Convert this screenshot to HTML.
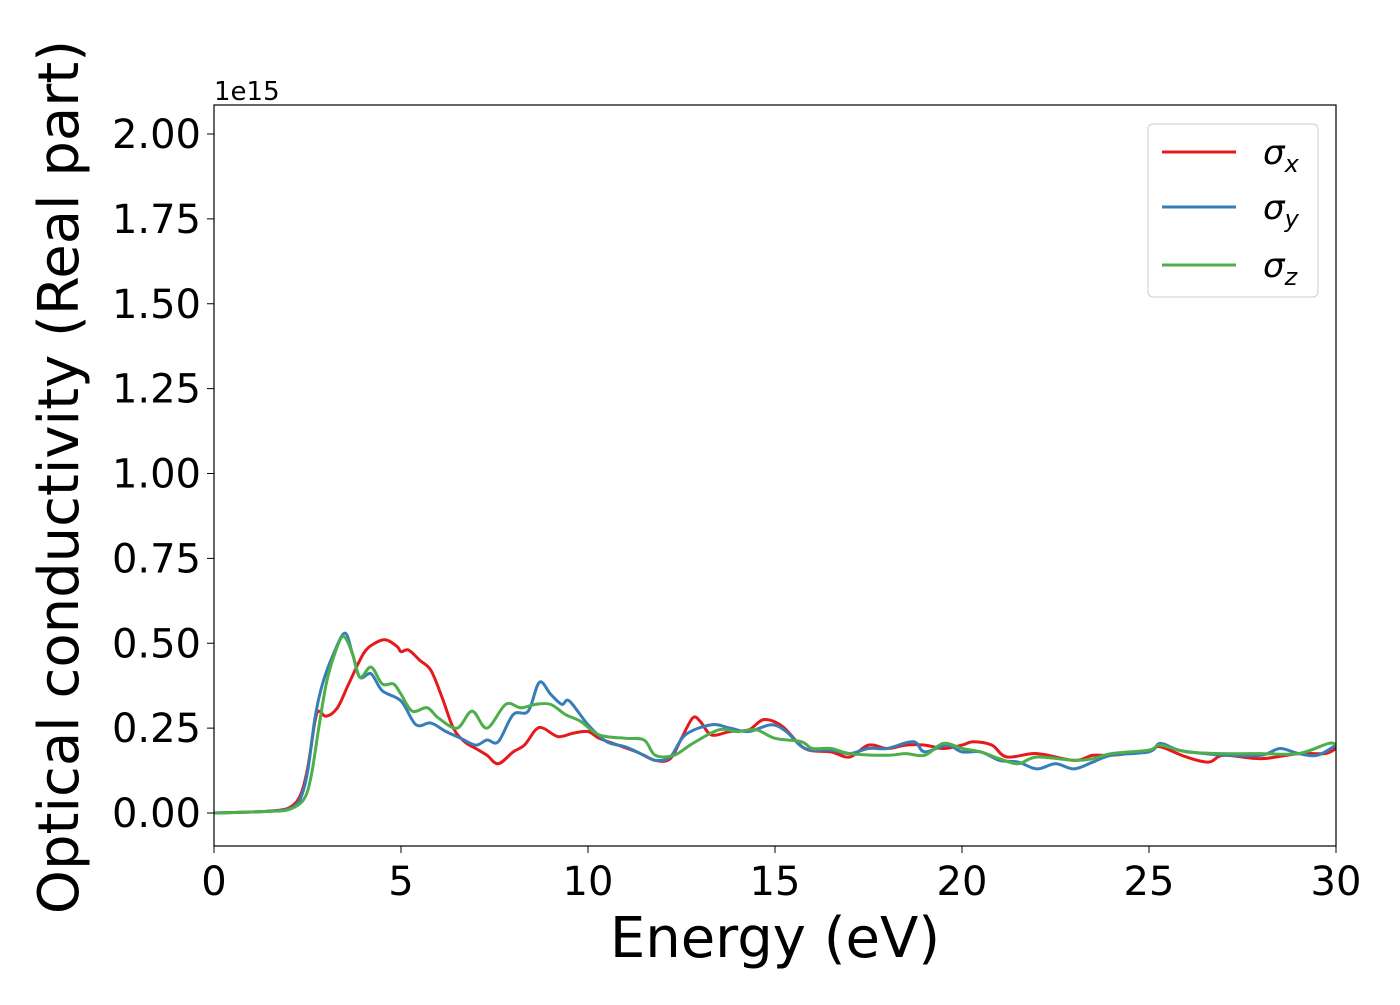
<!DOCTYPE html>
<html><head><meta charset="utf-8"><style>
body{margin:0;background:#fff}
text{font-family:"DejaVu Sans","Liberation Sans",sans-serif}
</style></head><body>
<svg id="chart" width="1400" height="1000" xmlns="http://www.w3.org/2000/svg">
<rect width="1400" height="1000" fill="#fff"/>
<g id="lines"></g>
<rect x="214" y="105" width="1122" height="741" fill="none" stroke="#000" stroke-width="1.2"/>
<g id="axes"></g>
<text x="214" y="100" font-size="26">1e15</text>
<text x="775" y="957" font-size="56" text-anchor="middle">Energy (eV)</text>
<text transform="translate(78,477) rotate(-90)" font-size="56" text-anchor="middle">Optical conductivity (Real part)</text>
<g>
<rect x="1148" y="124" width="170" height="173" rx="5" fill="#fff" fill-opacity="0.8" stroke="#ccc"/>
<line x1="1162" y1="152" x2="1236" y2="152" stroke="#e41a1c" stroke-width="3"/>
<text x="1263" y="164" font-size="34" font-style="italic">σ<tspan font-size="24" dy="8">x</tspan></text>
<line x1="1162" y1="207" x2="1236" y2="207" stroke="#377eb8" stroke-width="3"/>
<text x="1263" y="219" font-size="34" font-style="italic">σ<tspan font-size="24" dy="8">y</tspan></text>
<line x1="1162" y1="265" x2="1236" y2="265" stroke="#4daf4a" stroke-width="3"/>
<text x="1263" y="277" font-size="34" font-style="italic">σ<tspan font-size="24" dy="8">z</tspan></text>
</g>
</svg>
<script>
const xTicks=[0,5,10,15,20,25,30];
const yTicks=[0,0.25,0.5,0.75,1.0,1.25,1.5,1.75,2.0];
const xE=[0,1,1.5,2,2.3,2.5,2.7,2.8,3.0,3.3,3.6,4.0,4.3,4.6,4.9,5.0,5.2,5.5,5.8,6.1,6.4,6.7,7.0,7.3,7.6,8.0,8.3,8.6,8.8,9.2,9.6,10.0,10.3,10.8,11.3,11.8,12.2,12.5,12.8,13.0,13.3,13.8,14.3,14.7,15.2,15.8,16.5,17.0,17.5,18,18.5,19,19.5,20,20.3,20.8,21.2,22,23,23.5,24,25,25.3,26,26.6,27,28,29,29.7,30];
const xV=[0,0.003,0.006,0.015,0.05,0.13,0.27,0.30,0.285,0.31,0.38,0.47,0.50,0.51,0.49,0.475,0.48,0.45,0.42,0.34,0.25,0.21,0.19,0.17,0.145,0.18,0.2,0.245,0.25,0.225,0.235,0.24,0.22,0.2,0.18,0.155,0.16,0.22,0.28,0.27,0.23,0.24,0.245,0.275,0.255,0.19,0.18,0.165,0.2,0.19,0.2,0.2,0.19,0.2,0.21,0.2,0.165,0.175,0.155,0.17,0.17,0.185,0.195,0.165,0.15,0.17,0.16,0.175,0.175,0.19];
const yE=[0,1,1.5,2,2.3,2.5,2.7,2.9,3.2,3.5,3.7,3.9,4.2,4.5,5.0,5.4,5.8,6.2,6.6,7.0,7.3,7.6,8.0,8.4,8.7,9.0,9.3,9.5,10.0,10.5,11.0,11.5,11.8,12.2,12.6,13.3,13.8,14.3,14.9,15.3,15.8,16.5,17,17.5,18,18.7,19,19.6,20,20.5,21,21.5,22,22.5,23,23.5,24,25,25.3,25.8,26.5,27,28,28.5,29,29.5,30];
const yV=[0,0.003,0.005,0.012,0.04,0.12,0.28,0.38,0.47,0.53,0.47,0.40,0.41,0.36,0.33,0.26,0.265,0.24,0.22,0.20,0.215,0.21,0.29,0.30,0.385,0.35,0.32,0.33,0.26,0.21,0.195,0.17,0.155,0.165,0.23,0.26,0.25,0.24,0.26,0.24,0.19,0.185,0.175,0.19,0.19,0.21,0.18,0.2,0.18,0.18,0.155,0.15,0.13,0.145,0.13,0.15,0.17,0.18,0.205,0.185,0.175,0.17,0.17,0.19,0.175,0.17,0.2];
const zE=[0,1,1.5,2,2.4,2.6,2.8,3.0,3.2,3.45,3.7,3.9,4.2,4.5,4.8,5.0,5.3,5.7,6.0,6.5,6.9,7.3,7.8,8.2,8.6,9.0,9.4,9.8,10.3,11,11.5,11.8,12.3,12.8,13.5,14,14.5,15,15.7,16,16.5,17,18,18.5,19,19.5,20,20.5,21,21.5,22,23,23.5,24,25,25.3,26,27,28,29,29.8,30];
const zV=[0,0.003,0.005,0.01,0.04,0.11,0.25,0.38,0.46,0.52,0.47,0.40,0.43,0.38,0.38,0.35,0.30,0.31,0.28,0.25,0.30,0.25,0.32,0.31,0.32,0.32,0.29,0.27,0.23,0.22,0.215,0.17,0.17,0.205,0.245,0.24,0.245,0.22,0.21,0.19,0.19,0.175,0.17,0.175,0.17,0.205,0.19,0.18,0.16,0.145,0.165,0.155,0.16,0.175,0.185,0.2,0.18,0.175,0.175,0.175,0.205,0.2];
const X0=214,X1=1336,Y0v=813,ppu=339.5;
function sx(v){return X0+(v/30)*(X1-X0);}
function sy(v){return Y0v-v*ppu;}
const NS="http://www.w3.org/2000/svg";
const axes=document.getElementById('axes');
xTicks.forEach(t=>{
 const l=document.createElementNS(NS,'line');
 
 
 l.setAttribute('x1',sx(t));l.setAttribute('x2',sx(t));l.setAttribute('y1',846);l.setAttribute('y2',853);l.setAttribute('stroke','#000');
 axes.appendChild(l);
 const tx=document.createElementNS(NS,'text');
 
 
 tx.setAttribute('x',sx(t));tx.setAttribute('y',895);tx.setAttribute('font-size','40');tx.setAttribute('text-anchor','middle');
 tx.textContent=t;axes.appendChild(tx);
});
yTicks.forEach(t=>{
 const l=document.createElementNS(NS,'line');
 
 
 l.setAttribute('x1',207);l.setAttribute('x2',214);l.setAttribute('y1',sy(t));l.setAttribute('y2',sy(t));l.setAttribute('stroke','#000');
 axes.appendChild(l);
 const tx=document.createElementNS(NS,'text');
 
 
 tx.setAttribute('x',201);tx.setAttribute('y',sy(t)+14);tx.setAttribute('font-size','40');tx.setAttribute('text-anchor','end');
 tx.textContent=t.toFixed(2);axes.appendChild(tx);
});
function pathFor(E,V){
 const p=E.map((e,i)=>[sx(e),sy(V[i])]);
 let d='M'+p[0][0]+','+p[0][1];
 for(let i=0;i<p.length-1;i++){
  const a=p[Math.max(0,i-1)],b=p[i],c=p[i+1],e=p[Math.min(p.length-1,i+2)];
  const c1=[b[0]+(c[0]-a[0])/6,b[1]+(c[1]-a[1])/6],c2=[c[0]-(e[0]-b[0])/6,c[1]-(e[1]-b[1])/6];
  d+=' C'+c1[0]+','+c1[1]+' '+c2[0]+','+c2[1]+' '+c[0]+','+c[1];
 }
 return d;
}
const g=document.getElementById('lines');
[[xE,xV,'#e41a1c','sigma-x-line'],[yE,yV,'#377eb8','sigma-y-line'],[zE,zV,'#4daf4a','sigma-z-line']].forEach(s=>{
 const p=document.createElementNS(NS,'path');
 
 
 p.setAttribute('d',pathFor(s[0],s[1]));p.setAttribute('fill','none');p.setAttribute('stroke',s[2]);p.setAttribute('stroke-width','3');
 g.appendChild(p);
});
</script>
</body></html>
